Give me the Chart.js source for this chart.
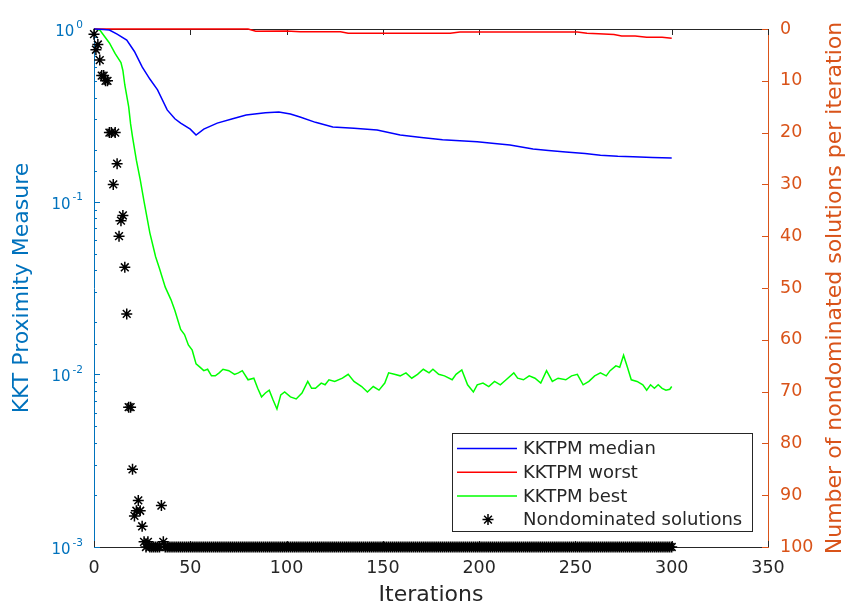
<!DOCTYPE html>
<html>
<head>
<meta charset="utf-8">
<script src="https://cdn.jsdelivr.net/npm/chart.js@4.4.0/dist/chart.umd.min.js"></script>
<style>
  html, body { margin: 0; padding: 0; background: #fff; }
  #wrap { width: 852px; height: 608px; }
</style>
</head>
<body>
<div id="wrap"><canvas id="kktChart" width="852" height="608"></canvas></div>
<script>
// KKTPM median
const medianIter = [0, 5, 8, 12, 17, 21, 25, 29, 33, 38,
  42, 45, 50, 53, 57, 64, 72, 79, 89, 96,
  102, 107, 115, 124, 135, 147, 159, 170, 181, 190,
  199, 208, 216, 228, 236, 245, 255, 263, 272, 280,
  290, 300];
const medianVal = [1.0, 0.993, 0.986, 0.933, 0.863, 0.741, 0.603, 0.513, 0.444, 0.34,
  0.302, 0.285, 0.263, 0.243, 0.263, 0.285, 0.302, 0.318, 0.327, 0.331,
  0.322, 0.309, 0.288, 0.271, 0.266, 0.26, 0.243, 0.235, 0.228, 0.225,
  0.222, 0.217, 0.213, 0.202, 0.198, 0.194, 0.19, 0.186, 0.183, 0.182,
  0.18, 0.179];

// KKTPM worst
const worstIter = [0, 80, 84, 100, 107, 128, 132, 185, 190, 251, 256, 262, 270, 274, 281, 287, 295, 300];
const worstVal = [1, 1, 0.97, 0.975, 0.965, 0.965, 0.944, 0.944, 0.96, 0.96, 0.944, 0.94, 0.93, 0.91, 0.91, 0.895, 0.895, 0.885];

// KKTPM best
const bestIter = [0, 3, 8, 11, 14, 15, 16, 18, 19, 20,
  22, 24, 26, 29, 32, 34, 37, 40, 42, 45,
  47, 49, 51, 53, 55, 57, 59, 61, 63, 65,
  67, 70, 73, 75, 77, 80, 83, 85, 87, 89,
  91, 93, 95, 97, 99, 102, 105, 108, 111, 113,
  115, 118, 120, 122, 125, 129, 132, 135, 139, 142,
  145, 148, 151, 153, 156, 159, 162, 165, 168, 171,
  174, 176, 179, 182, 186, 188, 191, 194, 197, 199,
  202, 205, 208, 211, 214, 218, 220, 223, 226, 229,
  232, 235, 238, 241, 245, 248, 251, 254, 257, 260,
  263, 266, 268, 271, 273, 275, 277, 279, 282, 285,
  287, 289, 291, 293, 295, 297, 299, 300];
const bestVal = [1.0, 0.986, 0.83, 0.72, 0.64, 0.575, 0.474, 0.355, 0.282, 0.237,
  0.174, 0.134, 0.1, 0.066, 0.048, 0.041, 0.032, 0.027, 0.0234, 0.0182,
  0.017, 0.0148, 0.0138, 0.0115, 0.011, 0.0105, 0.0107, 0.0098, 0.0098, 0.0102,
  0.0107, 0.0105, 0.01, 0.0102, 0.0105, 0.0093, 0.0095, 0.0083, 0.0074, 0.0078,
  0.0081, 0.0071, 0.0063, 0.0076, 0.0079, 0.0074, 0.0072, 0.0078, 0.0091, 0.0083,
  0.0083, 0.0089, 0.0087, 0.0093, 0.0091, 0.0095, 0.01, 0.0091, 0.0085, 0.0079,
  0.0085, 0.0081, 0.0089, 0.0102, 0.01, 0.0098, 0.0102, 0.0095, 0.01, 0.0107,
  0.0102, 0.0107, 0.01, 0.0098, 0.0093, 0.01, 0.0106, 0.0087, 0.0079, 0.0087,
  0.0089, 0.0085, 0.0091, 0.0087, 0.0093, 0.0102, 0.0095, 0.0093, 0.0098, 0.0095,
  0.0089, 0.0105, 0.0091, 0.0095, 0.0093, 0.0098, 0.01, 0.0087, 0.0091, 0.0098,
  0.0102, 0.0098, 0.0105, 0.0112, 0.011, 0.0129, 0.011, 0.0093, 0.0091, 0.0087,
  0.0081, 0.0087, 0.0083, 0.0087, 0.0083, 0.0081, 0.0082, 0.0085];

// nondominated solutions per iteration, index = iteration 0..300
const ndCounts = [
  1, 4, 3, 6, 9, 9, 10, 10, 20, 20, 30, 20, 26, 40, 37, 36, 46, 55, 73, 73,
  85, 94, 93, 91, 93, 96, 99, 100, 99, 100, 100, 100, 100, 100, 100, 92, 99, 100, 100, 100,
  100, 100, 100, 100, 100, 100, 100, 100, 100, 100, 100, 100, 100, 100, 100, 100, 100, 100, 100, 100,
  100, 100, 100, 100, 100, 100, 100, 100, 100, 100, 100, 100, 100, 100, 100, 100, 100, 100, 100, 100,
  100, 100, 100, 100, 100, 100, 100, 100, 100, 100, 100, 100, 100, 100, 100, 100, 100, 100, 100, 100,
  100, 100, 100, 100, 100, 100, 100, 100, 100, 100, 100, 100, 100, 100, 100, 100, 100, 100, 100, 100,
  100, 100, 100, 100, 100, 100, 100, 100, 100, 100, 100, 100, 100, 100, 100, 100, 100, 100, 100, 100,
  100, 100, 100, 100, 100, 100, 100, 100, 100, 100, 100, 100, 100, 100, 100, 100, 100, 100, 100, 100,
  100, 100, 100, 100, 100, 100, 100, 100, 100, 100, 100, 100, 100, 100, 100, 100, 100, 100, 100, 100,
  100, 100, 100, 100, 100, 100, 100, 100, 100, 100, 100, 100, 100, 100, 100, 100, 100, 100, 100, 100,
  100, 100, 100, 100, 100, 100, 100, 100, 100, 100, 100, 100, 100, 100, 100, 100, 100, 100, 100, 100,
  100, 100, 100, 100, 100, 100, 100, 100, 100, 100, 100, 100, 100, 100, 100, 100, 100, 100, 100, 100,
  100, 100, 100, 100, 100, 100, 100, 100, 100, 100, 100, 100, 100, 100, 100, 100, 100, 100, 100, 100,
  100, 100, 100, 100, 100, 100, 100, 100, 100, 100, 100, 100, 100, 100, 100, 100, 100, 100, 100, 100,
  100, 100, 100, 100, 100, 100, 100, 100, 100, 100, 100, 100, 100, 100, 100, 100, 100, 100, 100, 100,
  100
];

const seriesLabels = ["KKTPM median", "KKTPM worst", "KKTPM best", "Nondominated solutions"];
const xTitle = "Iterations";
const leftTitle = "KKT Proximity Measure";
const rightTitle = "Number of nondominated solutions per iteration";

const FONT = "'DejaVu Sans', sans-serif";
const DARK = "#262626";
const BLUE_AX = "#0072BD";
const ORANGE_AX = "#D95319";

function pairs(xs, ys) {
  return xs.map((x, i) => ({ x, y: ys[i] }));
}

function isPow10(v) {
  const l = Math.log10(v);
  return Math.abs(l - Math.round(l)) < 1e-6;
}

function drawStar(ctx, x, y, r) {
  const d = r * Math.SQRT1_2;
  ctx.beginPath();
  ctx.moveTo(x - r, y); ctx.lineTo(x + r, y);
  ctx.moveTo(x, y - r); ctx.lineTo(x, y + r);
  ctx.moveTo(x - d, y - d); ctx.lineTo(x + d, y + d);
  ctx.moveTo(x - d, y + d); ctx.lineTo(x + d, y - d);
  ctx.stroke();
}

// MATLAB-like box: inward ticks, top edge, 10^n labels, right title, legend
const matlabLook = {
  id: "matlabLook",
  beforeDatasetsDraw(chart) {
    const { ctx, chartArea: a, scales } = chart;
    ctx.save();
    ctx.lineWidth = 1;

    ctx.strokeStyle = DARK;
    ctx.beginPath();
    ctx.moveTo(a.left, a.top + 0.5);
    ctx.lineTo(a.right, a.top + 0.5);
    ctx.stroke();

    scales.x.ticks.forEach(t => {
      const px = Math.round(scales.x.getPixelForValue(t.value)) + 0.5;
      ctx.beginPath();
      ctx.moveTo(px, a.bottom); ctx.lineTo(px, a.bottom - 6);
      ctx.moveTo(px, a.top); ctx.lineTo(px, a.top + 6);
      ctx.stroke();
    });

    ctx.strokeStyle = BLUE_AX;
    scales.y.ticks.forEach(t => {
      const py = Math.round(scales.y.getPixelForValue(t.value)) + 0.5;
      ctx.beginPath();
      ctx.moveTo(a.left, py);
      ctx.lineTo(a.left + (isPow10(t.value) ? 6 : 3), py);
      ctx.stroke();
    });

    ctx.strokeStyle = ORANGE_AX;
    scales.y1.ticks.forEach(t => {
      const py = Math.round(scales.y1.getPixelForValue(t.value)) + 0.5;
      ctx.beginPath();
      ctx.moveTo(a.right, py);
      ctx.lineTo(a.right - 6, py);
      ctx.stroke();
    });
    ctx.restore();
  },
  afterDraw(chart) {
    const { ctx, chartArea: a, scales } = chart;
    ctx.save();

    // left tick labels as 10^n
    ctx.fillStyle = BLUE_AX;
    ctx.textBaseline = "middle";
    ctx.textAlign = "left";
    scales.y.ticks.forEach(t => {
      if (!isPow10(t.value)) return;
      const e = Math.round(Math.log10(t.value));
      const py = scales.y.getPixelForValue(t.value);
      const expTxt = e === 0 ? "0" : "-" + Math.abs(e);
      ctx.font = "10.5px " + FONT;
      const w2 = ctx.measureText(expTxt).width;
      ctx.font = "15px " + FONT;
      const w1 = ctx.measureText("10").width;
      const right = a.left - 11;
      ctx.fillText("10", right - w2 - 2 - w1, py + 3);
      ctx.font = "10.5px " + FONT;
      ctx.fillText(expTxt, right - w2, py - 4);
    });

    // right axis title, read bottom to top
    ctx.fillStyle = ORANGE_AX;
    ctx.font = "22px " + FONT;
    ctx.textAlign = "center";
    ctx.translate(835, (a.top + a.bottom) / 2);
    ctx.rotate(-Math.PI / 2);
    ctx.fillText(rightTitle, 0, 0);
    ctx.setTransform(1, 0, 0, 1, 0, 0);

    // legend box
    const lx = a.right - 316, ly = a.bottom - 114, lw = 300, lh = 98;
    ctx.fillStyle = "#fff";
    ctx.fillRect(lx, ly, lw, lh);
    ctx.strokeStyle = DARK;
    ctx.lineWidth = 1;
    ctx.strokeRect(lx + 0.5, ly + 0.5, lw, lh);

    const legendOrder = [1, 2, 3, 0];
    ctx.font = "18px " + FONT;
    ctx.textAlign = "left";
    ctx.textBaseline = "middle";
    legendOrder.forEach((di, row) => {
      const ds = chart.data.datasets[di];
      const ry = ly + 15.5 + row * 23.7;
      if (ds.showLine === false) {
        ctx.strokeStyle = "#000";
        ctx.lineWidth = 1.5;
        drawStar(ctx, lx + 36, ry, 5.5);
      } else {
        ctx.strokeStyle = ds.borderColor;
        ctx.lineWidth = 1.5;
        ctx.beginPath();
        ctx.moveTo(lx + 5, ry);
        ctx.lineTo(lx + 65, ry);
        ctx.stroke();
      }
      ctx.fillStyle = DARK;
      ctx.fillText(ds.label, lx + 71, ry + 1);
    });
    ctx.restore();
  }
};

new Chart(document.getElementById("kktChart"), {
  type: "line",
  data: {
    datasets: [
      {
        label: seriesLabels[3],
        data: ndCounts.map((c, i) => ({ x: i, y: c })),
        yAxisID: "y1",
        showLine: false,
        pointStyle: "star",
        pointRadius: 5.5,
        pointBorderWidth: 1.5,
        pointBorderColor: "#000",
        pointBackgroundColor: "#000",
        borderColor: "#000",
        clip: false,
        order: 0,
      },
      {
        label: seriesLabels[0],
        data: pairs(medianIter, medianVal),
        yAxisID: "y",
        borderColor: "#0000FF",
        borderWidth: 1.5,
        pointRadius: 0,
        tension: 0,
        clip: 3,
        order: 1,
      },
      {
        label: seriesLabels[1],
        data: pairs(worstIter, worstVal),
        yAxisID: "y",
        borderColor: "#FF0000",
        borderWidth: 1.5,
        pointRadius: 0,
        tension: 0,
        clip: 3,
        order: 2,
      },
      {
        label: seriesLabels[2],
        data: pairs(bestIter, bestVal),
        yAxisID: "y",
        borderColor: "#00FF00",
        borderWidth: 1.5,
        pointRadius: 0,
        tension: 0,
        clip: 3,
        order: 3,
      },
    ],
  },
  options: {
    responsive: false,
    animation: false,
    events: [],
    layout: { padding: { top: 29, left: 0, right: 0, bottom: 0 } },
    plugins: { legend: { display: false }, tooltip: { enabled: false } },
    scales: {
      x: {
        type: "linear",
        position: "bottom",
        min: 0,
        max: 350,
        ticks: { stepSize: 50, color: DARK, font: { family: FONT, size: 17.5 }, padding: 11, maxRotation: 0 },
        grid: { display: false, drawTicks: false },
        border: { color: DARK, width: 1 },
        title: { display: true, text: xTitle, color: DARK, font: { family: FONT, size: 22 }, padding: { top: 0, bottom: 0 } },
        afterFit: s => { s.height = 61; },
      },
      y: {
        type: "logarithmic",
        position: "left",
        min: 0.001,
        max: 1,
        ticks: { autoSkip: false, callback: () => "" },
        grid: { display: false, drawTicks: false },
        border: { color: BLUE_AX, width: 1 },
        title: { display: true, text: leftTitle, color: BLUE_AX, font: { family: FONT, size: 22 }, padding: { top: 9, bottom: 0 } },
        afterFit: s => { s.width = 94; },
      },
      y1: {
        type: "linear",
        position: "right",
        reverse: true,
        min: 0,
        max: 100,
        ticks: { stepSize: 10, color: ORANGE_AX, font: { family: FONT, size: 17.5 }, padding: 12 },
        grid: { display: false, drawTicks: false },
        border: { color: ORANGE_AX, width: 1 },
        afterFit: s => { s.width = 84; },
      },
    },
  },
  plugins: [matlabLook],
});
</script>
</body>
</html>
